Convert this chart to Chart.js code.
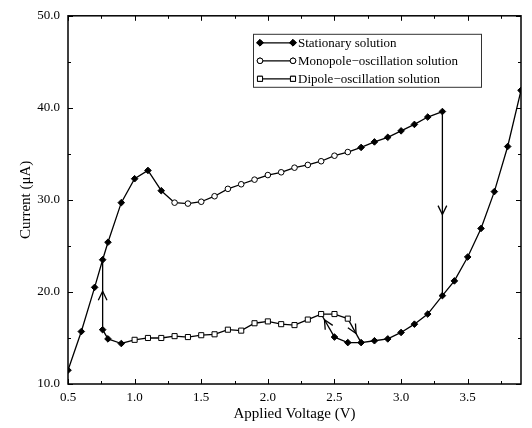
<!DOCTYPE html>
<html>
<head>
<meta charset="utf-8">
<script src="https://cdn.jsdelivr.net/npm/chart.js@4.4.1/dist/chart.umd.min.js"></script>
<style>
html, body { margin: 0; padding: 0; background: #fff; }
</style>
</head>
<body>
<canvas id="grafico" width="532" height="428"></canvas>
<script>
// Solucion estacionaria, rama que sube
var estSubeV = [0.5, 0.6, 0.7, 0.76, 0.8, 0.9, 1.0, 1.1, 1.2];
var estSubeI = [11.5, 15.7, 20.5, 23.5, 25.4, 29.7, 32.3, 33.2, 31.0];
// Solucion estacionaria, rama alta (despues del monopolo)
var estAltaV = [2.7, 2.8, 2.9, 3.0, 3.1, 3.2, 3.31];
var estAltaI = [35.7, 36.3, 36.8, 37.5, 38.2, 39.0, 39.6];
// Solucion estacionaria, rama baja izquierda
var estBajaIzqV = [0.76, 0.8, 0.9];
var estBajaIzqI = [15.9, 14.9, 14.4];
// Solucion estacionaria, rama baja derecha
var estBajaDerV = [2.5, 2.6, 2.7, 2.8, 2.9, 3.0, 3.1, 3.2, 3.31, 3.4, 3.5, 3.6, 3.7, 3.8, 3.9];
var estBajaDerI = [15.1, 14.5, 14.5, 14.7, 14.9, 15.6, 16.5, 17.6, 19.6, 21.2, 23.8, 26.9, 30.9, 35.8, 41.9];
// Oscilacion monopolo
var monoV = [1.3, 1.4, 1.5, 1.6, 1.7, 1.8, 1.9, 2.0, 2.1, 2.2, 2.3, 2.4, 2.5, 2.6];
var monoI = [29.7, 29.6, 29.8, 30.4, 31.2, 31.7, 32.2, 32.7, 33.0, 33.5, 33.8, 34.2, 34.8, 35.2];
// Oscilacion dipolo
var dipoV = [1.0, 1.1, 1.2, 1.3, 1.4, 1.5, 1.6, 1.7, 1.8, 1.9, 2.0, 2.1, 2.2, 2.3, 2.4, 2.5, 2.6];
var dipoI = [14.8, 15.0, 15.0, 15.2, 15.1, 15.3, 15.4, 15.9, 15.8, 16.6, 16.8, 16.5, 16.4, 17.0, 17.6, 17.6, 17.1];

// Ejes
var ticksX = [0.5, 0.75, 1.0, 1.25, 1.5, 1.75, 2.0, 2.25, 2.5, 2.75, 3.0, 3.25, 3.5, 3.75];
var ticksY = [10, 15, 20, 25, 30, 35, 40, 45, 50];
var etiquetas = ["Stationary solution", "Monopole\u2212oscillation solution", "Dipole\u2212oscillation solution"];

function puntos(vs, is) {
    return vs.map(function (v, k) { return { x: v, y: is[k] }; });
}
var corte = { x: null, y: null };
function ultimo(vs, is) { return { x: vs[vs.length - 1], y: is[is.length - 1] }; }
function primero(vs, is) { return { x: vs[0], y: is[0] }; }

var dataEst = []
    .concat(puntos(estSubeV, estSubeI), [corte])
    .concat(puntos(estAltaV, estAltaI), [corte])
    .concat(puntos(estBajaIzqV, estBajaIzqI), [corte])
    .concat(puntos(estBajaDerV, estBajaDerI));

// tramos que unen las ramas
var dataUniones = [
    ultimo(estSubeV, estSubeI), primero(monoV, monoI), corte,
    ultimo(monoV, monoI), primero(estAltaV, estAltaI), corte,
    ultimo(estBajaIzqV, estBajaIzqI), primero(dipoV, dipoI)
];

// flechas (de cola a punta)
var flechaSube = [primero(estBajaIzqV, estBajaIzqI), { x: estSubeV[3], y: estSubeI[3] }];
var flechaBaja = [ultimo(estAltaV, estAltaI), { x: estBajaDerV[8], y: estBajaDerI[8] }];
var flechaDipIzq = [primero(estBajaDerV, estBajaDerI), { x: dipoV[14], y: dipoI[14] }];
var flechaDipDer = [ultimo(dipoV, dipoI), { x: estBajaDerV[2], y: estBajaDerI[2] }];

Chart.defaults.font.family = "'Liberation Serif', 'Times New Roman', serif";
Chart.defaults.color = "#000";

function flecha(data, pos) {
    return {
        data: data, borderColor: "#000", borderWidth: 1.3, pointRadius: 0,
        fill: false, flechaEn: pos
    };
}

var pluginDibujo = {
    id: "dibujo",
    afterDatasetsDraw: function (chart) {
        var ctx = chart.ctx;
        ctx.save();
        ctx.strokeStyle = "#000";
        ctx.lineWidth = 1.3;
        chart.data.datasets.forEach(function (ds, i) {
            if (!ds.flechaEn) return;
            var pts = chart.getDatasetMeta(i).data;
            var a = pts[0], b = pts[1];
            var ang = Math.atan2(b.y - a.y, b.x - a.x);
            var tx = a.x + (b.x - a.x) * ds.flechaEn;
            var ty = a.y + (b.y - a.y) * ds.flechaEn;
            var largo = 10, abre = 0.45;
            ctx.beginPath();
            ctx.moveTo(tx - largo * Math.cos(ang - abre), ty - largo * Math.sin(ang - abre));
            ctx.lineTo(tx, ty);
            ctx.lineTo(tx - largo * Math.cos(ang + abre), ty - largo * Math.sin(ang + abre));
            ctx.stroke();
        });
        ctx.restore();
    },
    afterDraw: function (chart) {
        var ctx = chart.ctx;
        var area = chart.chartArea;
        var sx = chart.scales.x, sy = chart.scales.y;
        ctx.save();
        ctx.strokeStyle = "#000";
        ctx.lineWidth = 1.5;
        ctx.strokeRect(area.left, area.top, area.right - area.left, area.bottom - area.top);
        ctx.lineWidth = 1;
        ctx.beginPath();
        ticksX.forEach(function (v) {
            var px = Math.round(sx.getPixelForValue(v)) + 0.5;
            var l = (Math.abs(v * 2 - Math.round(v * 2)) < 1e-6) ? 5 : 3;
            ctx.moveTo(px, area.bottom); ctx.lineTo(px, area.bottom - l);
            ctx.moveTo(px, area.top); ctx.lineTo(px, area.top + l);
        });
        ticksY.forEach(function (v) {
            var py = Math.round(sy.getPixelForValue(v)) + 0.5;
            var l = (v % 10 === 0) ? 5 : 3;
            ctx.moveTo(area.left, py); ctx.lineTo(area.left + l, py);
            ctx.moveTo(area.right, py); ctx.lineTo(area.right - l, py);
        });
        ctx.stroke();

        // leyenda
        var x0 = area.right - 268, y0 = area.top + 18, w = 228, h = 53;
        ctx.fillStyle = "#fff";
        ctx.fillRect(x0, y0, w, h);
        ctx.strokeStyle = "#333";
        ctx.lineWidth = 1;
        ctx.strokeRect(x0 + 0.5, y0 + 0.5, w, h);
        ctx.font = "13px 'Liberation Serif', serif";
        ctx.textBaseline = "middle";
        for (var i = 0; i < 3; i++) {
            var ds = chart.data.datasets[i];
            var yy = y0 + 9 + i * 18;
            ctx.strokeStyle = "#000";
            ctx.lineWidth = 1.3;
            ctx.beginPath();
            ctx.moveTo(x0 + 7, yy); ctx.lineTo(x0 + 40, yy);
            ctx.stroke();
            [x0 + 7, x0 + 40].forEach(function (mx) {
                Chart.helpers.drawPoint(ctx, {
                    pointStyle: ds.pointStyle, radius: ds.pointRadius,
                    borderWidth: 1, rotation: 0
                }, mx, yy);
            });
            ctx.fillStyle = "#000";
            ctx.fillText(etiquetas[i], x0 + 45, yy + 1);
        }
        ctx.restore();
    }
};

// drawPoint usa el estilo del contexto
var dibujaPunto = Chart.helpers.drawPoint;
Chart.helpers.drawPoint = function (ctx, opts, x, y) {
    ctx.save();
    if (opts.pointStyle === "circle") ctx.fillStyle = "#fff";
    else if (opts.pointStyle === "rect") ctx.fillStyle = "#fff";
    else ctx.fillStyle = "#000";
    ctx.strokeStyle = "#000";
    ctx.lineWidth = 1;
    dibujaPunto(ctx, opts, x, y);
    ctx.fill();
    ctx.stroke();
    ctx.restore();
};

var ctxGraf = document.getElementById("grafico").getContext("2d");
var grafico = new Chart(ctxGraf, {
    type: "line",
    data: {
        datasets: [
            {
                label: etiquetas[0], data: dataEst, borderColor: "#000", borderWidth: 1.3,
                pointStyle: "rectRot", pointRadius: 3.3, pointBackgroundColor: "#000",
                pointBorderColor: "#000", pointBorderWidth: 1, spanGaps: false
            },
            {
                label: etiquetas[1], data: puntos(monoV, monoI), borderColor: "#000", borderWidth: 1.3,
                pointStyle: "circle", pointRadius: 2.8, pointBackgroundColor: "#fff",
                pointBorderColor: "#000", pointBorderWidth: 1
            },
            {
                label: etiquetas[2], data: puntos(dipoV, dipoI), borderColor: "#000", borderWidth: 1.3,
                pointStyle: "rect", pointRadius: 3.6, pointBackgroundColor: "#fff",
                pointBorderColor: "#000", pointBorderWidth: 1
            },
            { data: dataUniones, borderColor: "#000", borderWidth: 1.3, pointRadius: 0, spanGaps: false },
            flecha(flechaSube, 0.55),
            flecha(flechaBaja, 0.56),
            flecha(flechaDipIzq, 0.75),
            flecha(flechaDipDer, 0.62)
        ]
    },
    options: {
        responsive: false,
        animation: false,
        devicePixelRatio: 1,
        layout: { padding: { left: 0, right: 11, top: 7, bottom: 0 } },
        plugins: { legend: { display: false }, tooltip: { enabled: false } },
        elements: { line: { tension: 0 } },
        scales: {
            x: {
                type: "linear", min: 0.5, max: 3.9,
                grid: { display: false, drawTicks: false },
                border: { display: false },
                afterBuildTicks: function (eje) { eje.ticks = ticksX.map(function (v) { return { value: v }; }); },
                afterFit: function (eje) { eje.height = 44; },
                ticks: {
                    autoSkip: false, maxRotation: 0, padding: 6,
                    font: { size: 13 },
                    callback: function (v) {
                        return Math.abs(v * 2 - Math.round(v * 2)) < 1e-6 ? v.toFixed(1) : "";
                    }
                },
                title: { display: true, text: "Applied Voltage (V)", font: { size: 15 }, padding: { top: 4, bottom: 5 } }
            },
            y: {
                type: "linear", min: 10, max: 50,
                grid: { display: false, drawTicks: false },
                border: { display: false },
                afterBuildTicks: function (eje) { eje.ticks = ticksY.map(function (v) { return { value: v }; }); },
                afterFit: function (eje) { eje.width = 68; },
                ticks: {
                    autoSkip: false, padding: 8,
                    font: { size: 13 },
                    callback: function (v) { return v % 10 === 0 ? v.toFixed(1) : ""; }
                },
                title: { display: true, text: "Current (\u03bcA)", font: { size: 15 }, padding: { top: 17, bottom: 0 } }
            }
        }
    },
    plugins: [pluginDibujo]
});
</script>
</body>
</html>
